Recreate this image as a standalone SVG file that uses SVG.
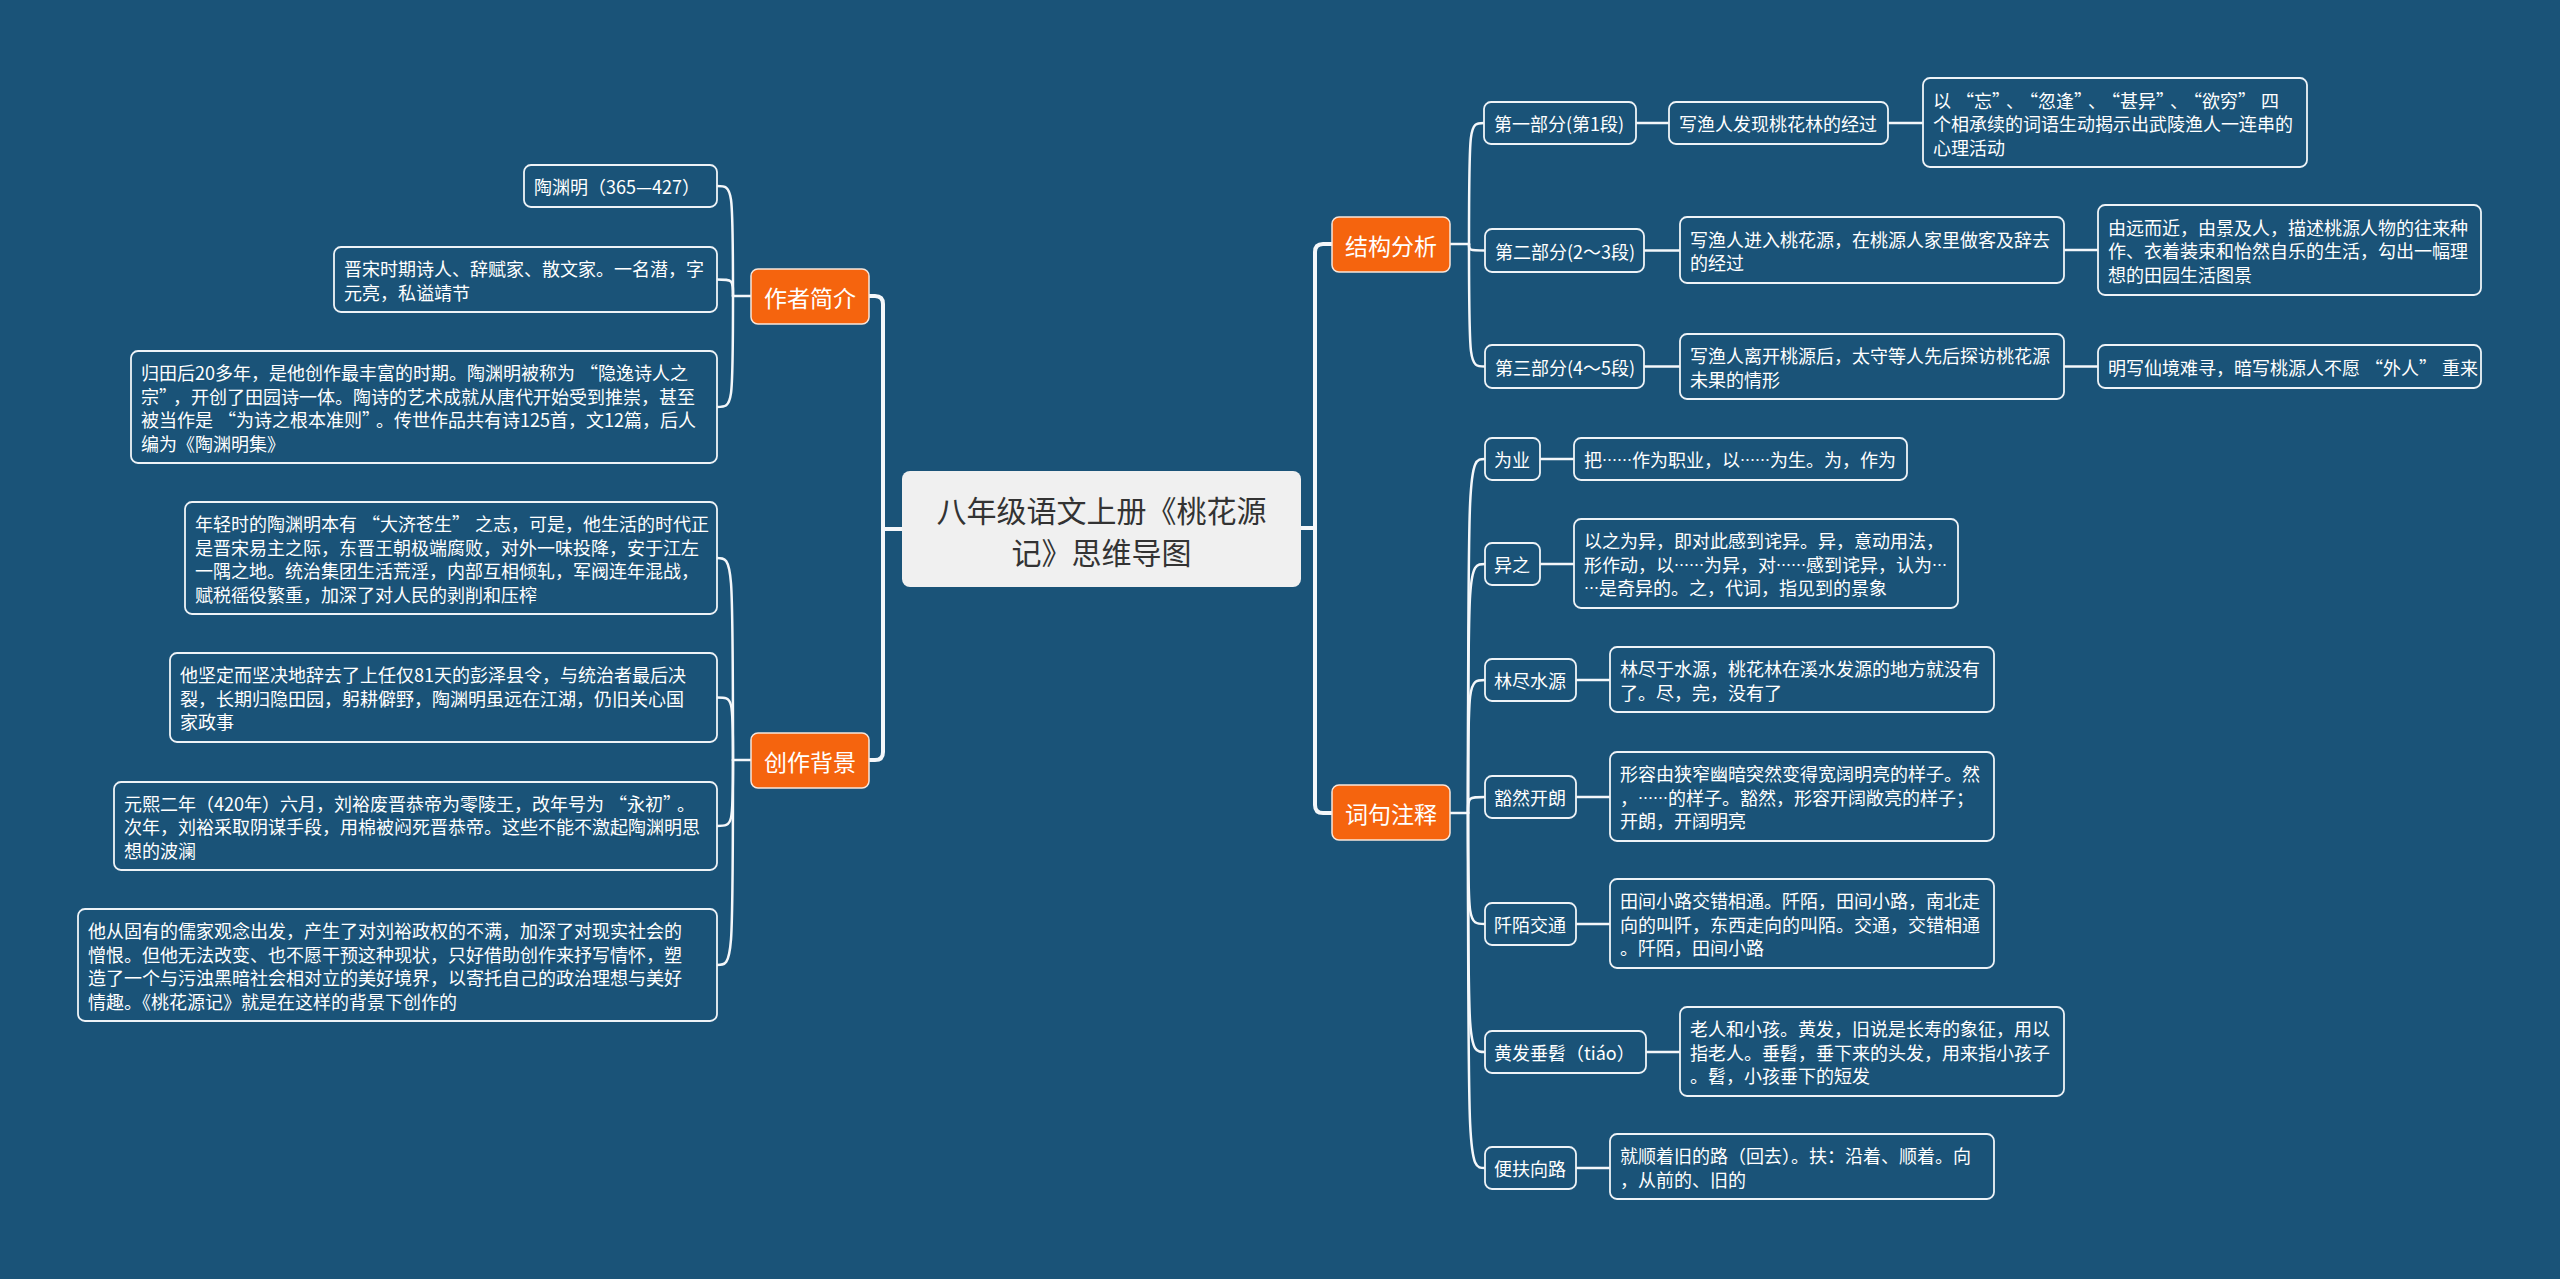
<svg xmlns="http://www.w3.org/2000/svg" width="2560" height="1279" viewBox="0 0 2560 1279">
<style>
.bg{fill:#1a5378}
.main{fill:none;stroke:#f4f7fa;stroke-width:4;stroke-linecap:round;stroke-linejoin:round}
.ln{fill:none;stroke:#f4f7fa;stroke-width:2.5;stroke-linecap:round}
.box{fill:#1a5378;stroke:#eef3f7;stroke-width:1.8}
.org{fill:#f5640e;stroke:#f8e6da;stroke-width:1.5}
.ctr{fill:#f0f0f0}
text{font-family:"Noto Sans CJK SC","Microsoft YaHei","Noto Sans",sans-serif;dominant-baseline:central}
.t{fill:#ffffff;font-size:18px}
.to{fill:#ffffff;font-size:23px;text-anchor:middle}
.tc{fill:#333333;font-size:30px;text-anchor:middle}
.qc{letter-spacing:5px}
.el{font-size:15px}
</style>
<rect class="bg" x="0" y="0" width="2560" height="1279"/>

<g id="connectors">
  <path class="main" d="M869,296 H875 Q883,296 883,304 V752 Q883,760 875,760 H869"/>
  <path class="main" d="M883,529 H902"/>
  <path class="main" d="M1332,244 H1323 Q1315,244 1315,252 V805 Q1315,813 1323,813 H1332"/>
  <path class="main" d="M1301,528 H1315"/>
  <path class="ln" d="M751,296 H733"/>
  <path class="ln" d="M733,296 C733,186 733,186 717,186"/>
  <path class="ln" d="M733,296 C733,279.5 733,279.5 717,279.5"/>
  <path class="ln" d="M733,296 C733,407 733,407 717,407"/>
  <path class="ln" d="M751,760 H733"/>
  <path class="ln" d="M733,760 C733,558 733,558 717,558"/>
  <path class="ln" d="M733,760 C733,697.5 733,697.5 717,697.5"/>
  <path class="ln" d="M733,760 C733,826 733,826 717,826"/>
  <path class="ln" d="M733,760 C733,965 733,965 717,965"/>
  <path class="ln" d="M1450,244 H1469"/>
  <path class="ln" d="M1469,244 C1469,123 1469,123 1484,123"/>
  <path class="ln" d="M1469,244 C1469,250.5 1469,250.5 1485,250.5"/>
  <path class="ln" d="M1469,244 C1469,366.5 1469,366.5 1485,366.5"/>
  <path class="ln" d="M1636,123 H1669"/>
  <path class="ln" d="M1888,123 H1923"/>
  <path class="ln" d="M1644,250.5 H1680"/>
  <path class="ln" d="M2064,250 H2098"/>
  <path class="ln" d="M1644,366.5 H1680"/>
  <path class="ln" d="M2064,366.5 H2098"/>
  <path class="ln" d="M1450,813 H1468"/>
  <path class="ln" d="M1468,813 C1468,459 1468,459 1485,459"/>
  <path class="ln" d="M1468,813 C1468,564 1468,564 1485,564"/>
  <path class="ln" d="M1468,813 C1468,680 1468,680 1485,680"/>
  <path class="ln" d="M1468,813 C1468,797 1468,797 1485,797"/>
  <path class="ln" d="M1468,813 C1468,924 1468,924 1485,924"/>
  <path class="ln" d="M1468,813 C1468,1052 1468,1052 1485,1052"/>
  <path class="ln" d="M1468,813 C1468,1168 1468,1168 1485,1168"/>
  <path class="ln" d="M1540,459 H1574"/>
  <path class="ln" d="M1540,564 H1574"/>
  <path class="ln" d="M1576,680 H1610"/>
  <path class="ln" d="M1576,797 H1610"/>
  <path class="ln" d="M1576,924 H1610"/>
  <path class="ln" d="M1646,1052 H1680"/>
  <path class="ln" d="M1576,1168 H1610"/>
</g>

<g id="center">
  <rect class="ctr" x="902" y="471" width="399" height="116" rx="8"/>
  <text class="tc" x="1101.5" y="509">八年级语文上册《桃花源</text>
  <text class="tc" x="1101.5" y="551">记》思维导图</text>
</g>

<g id="n-zuozhe">
  <rect class="org" x="751" y="269" width="118" height="55" rx="7"/>
  <text class="to" x="810" y="296.5">作者简介</text>
</g>
<g id="n-chuangzuo">
  <rect class="org" x="751" y="733" width="118" height="55" rx="7"/>
  <text class="to" x="810" y="760.5">创作背景</text>
</g>
<g id="n-jiegou">
  <rect class="org" x="1332" y="217" width="118" height="55" rx="7"/>
  <text class="to" x="1391" y="244.5">结构分析</text>
</g>
<g id="n-ciju">
  <rect class="org" x="1332" y="785" width="118" height="55" rx="7"/>
  <text class="to" x="1391" y="812.5">词句注释</text>
</g>

<g id="a1">
  <rect class="box" x="524" y="165" width="193" height="42" rx="7"/>
  <text class="t" x="534" y="186">陶渊明（365—427）</text>
</g>
<g id="a2">
  <rect class="box" x="334" y="247" width="383" height="65" rx="7"/>
  <text class="t" x="344" y="268">晋宋时期诗人、辞赋家、散文家。一名潜，字</text>
  <text class="t" x="344" y="291.5">元亮，私谥靖节</text>
</g>
<g id="a3">
  <rect class="box" x="131" y="351" width="586" height="112" rx="7"/>
  <text class="t" x="141" y="372">归田后20多年，是他创作最丰富的时期。陶渊明被称为<tspan dx="5">“</tspan>隐逸诗人之</text>
  <text class="t" x="141" y="395.5">宗<tspan class="qc">”</tspan>，开创了田园诗一体。陶诗的艺术成就从唐代开始受到推崇，甚至</text>
  <text class="t" x="141" y="419">被当作是<tspan dx="5">“</tspan>为诗之根本准则<tspan class="qc">”</tspan>。传世作品共有诗125首，文12篇，后人</text>
  <text class="t" x="141" y="442.5">编为《陶渊明集》</text>
</g>

<g id="b1">
  <rect class="box" x="185" y="502" width="532" height="112" rx="7"/>
  <text class="t" x="195" y="523">年轻时的陶渊明本有<tspan dx="5">“</tspan>大济苍生<tspan class="qc">”</tspan>之志，可是，他生活的时代正</text>
  <text class="t" x="195" y="546.5">是晋宋易主之际，东晋王朝极端腐败，对外一味投降，安于江左</text>
  <text class="t" x="195" y="570">一隅之地。统治集团生活荒淫，内部互相倾轧，军阀连年混战，</text>
  <text class="t" x="195" y="593.5">赋税徭役繁重，加深了对人民的剥削和压榨</text>
</g>
<g id="b2">
  <rect class="box" x="170" y="653" width="547" height="89" rx="7"/>
  <text class="t" x="180" y="674">他坚定而坚决地辞去了上任仅81天的彭泽县令，与统治者最后决</text>
  <text class="t" x="180" y="697.5">裂，长期归隐田园，躬耕僻野，陶渊明虽远在江湖，仍旧关心国</text>
  <text class="t" x="180" y="721">家政事</text>
</g>
<g id="b3">
  <rect class="box" x="114" y="782" width="603" height="88" rx="7"/>
  <text class="t" x="124" y="802.5">元熙二年（420年）六月，刘裕废晋恭帝为零陵王，改年号为<tspan dx="5">“</tspan>永初<tspan class="qc">”</tspan>。</text>
  <text class="t" x="124" y="826">次年，刘裕采取阴谋手段，用棉被闷死晋恭帝。这些不能不激起陶渊明思</text>
  <text class="t" x="124" y="849.5">想的波澜</text>
</g>
<g id="b4">
  <rect class="box" x="78" y="909" width="639" height="112" rx="7"/>
  <text class="t" x="88" y="930">他从固有的儒家观念出发，产生了对刘裕政权的不满，加深了对现实社会的</text>
  <text class="t" x="88" y="953.5">憎恨。但他无法改变、也不愿干预这种现状，只好借助创作来抒写情怀，塑</text>
  <text class="t" x="88" y="977">造了一个与污浊黑暗社会相对立的美好境界，以寄托自己的政治理想与美好</text>
  <text class="t" x="88" y="1000.5">情趣。《桃花源记》就是在这样的背景下创作的</text>
</g>

<g id="s1">
  <rect class="box" x="1484" y="102" width="152" height="42" rx="7"/>
  <text class="t" x="1494" y="123">第一部分(第1段)</text>
</g>
<g id="s1a">
  <rect class="box" x="1669" y="102" width="219" height="42" rx="7"/>
  <text class="t" x="1679" y="123">写渔人发现桃花林的经过</text>
</g>
<g id="s1b">
  <rect class="box" x="1923" y="78" width="384" height="89" rx="7"/>
  <text class="t" x="1933" y="99.5">以<tspan dx="5">“</tspan>忘<tspan class="qc">”</tspan>、<tspan dx="5">“</tspan>忽逢<tspan class="qc">”</tspan>、<tspan dx="5">“</tspan>甚异<tspan class="qc">”</tspan>、<tspan dx="5">“</tspan>欲穷<tspan class="qc">”</tspan>四</text>
  <text class="t" x="1933" y="123">个相承续的词语生动揭示出武陵渔人一连串的</text>
  <text class="t" x="1933" y="146.5">心理活动</text>
</g>
<g id="s2">
  <rect class="box" x="1485" y="229" width="159" height="43" rx="7"/>
  <text class="t" x="1495" y="250.5">第二部分(2～3段)</text>
</g>
<g id="s2a">
  <rect class="box" x="1680" y="217" width="384" height="66" rx="7"/>
  <text class="t" x="1690" y="238.5">写渔人进入桃花源，在桃源人家里做客及辞去</text>
  <text class="t" x="1690" y="262">的经过</text>
</g>
<g id="s2b">
  <rect class="box" x="2098" y="205" width="383" height="90" rx="7"/>
  <text class="t" x="2108" y="226.5">由远而近，由景及人，描述桃源人物的往来种</text>
  <text class="t" x="2108" y="250">作、衣着装束和怡然自乐的生活，勾出一幅理</text>
  <text class="t" x="2108" y="273.5">想的田园生活图景</text>
</g>
<g id="s3">
  <rect class="box" x="1485" y="345" width="159" height="43" rx="7"/>
  <text class="t" x="1495" y="366.5">第三部分(4～5段)</text>
</g>
<g id="s3a">
  <rect class="box" x="1680" y="334" width="384" height="65" rx="7"/>
  <text class="t" x="1690" y="355">写渔人离开桃源后，太守等人先后探访桃花源</text>
  <text class="t" x="1690" y="378.5">未果的情形</text>
</g>
<g id="s3b">
  <rect class="box" x="2098" y="345" width="383" height="43" rx="7"/>
  <text class="t" x="2108" y="366.5">明写仙境难寻，暗写桃源人不愿<tspan dx="5">“</tspan>外人<tspan class="qc">”</tspan>重来</text>
</g>

<g id="c1">
  <rect class="box" x="1485" y="438" width="55" height="42" rx="7"/>
  <text class="t" x="1494" y="459">为业</text>
</g>
<g id="c1a">
  <rect class="box" x="1574" y="438" width="333" height="42" rx="7"/>
  <text class="t" x="1584" y="459">把<tspan class="el">……</tspan>作为职业，以<tspan class="el">……</tspan>为生。为，作为</text>
</g>
<g id="c2">
  <rect class="box" x="1485" y="543" width="55" height="42" rx="7"/>
  <text class="t" x="1494" y="564">异之</text>
</g>
<g id="c2a">
  <rect class="box" x="1574" y="519" width="384" height="89" rx="7"/>
  <text class="t" x="1584" y="540">以之为异，即对此感到诧异。异，意动用法，</text>
  <text class="t" x="1584" y="563.5">形作动，以<tspan class="el">……</tspan>为异，对<tspan class="el">……</tspan>感到诧异，认为<tspan class="el">…</tspan></text>
  <text class="t" x="1584" y="587"><tspan class="el">…</tspan>是奇异的。之，代词，指见到的景象</text>
</g>
<g id="c3">
  <rect class="box" x="1485" y="659" width="91" height="42" rx="7"/>
  <text class="t" x="1494" y="680">林尽水源</text>
</g>
<g id="c3a">
  <rect class="box" x="1610" y="647" width="384" height="65" rx="7"/>
  <text class="t" x="1620" y="668">林尽于水源，桃花林在溪水发源的地方就没有</text>
  <text class="t" x="1620" y="691.5">了。尽，完，没有了</text>
</g>
<g id="c4">
  <rect class="box" x="1485" y="776" width="91" height="42" rx="7"/>
  <text class="t" x="1494" y="797">豁然开朗</text>
</g>
<g id="c4a">
  <rect class="box" x="1610" y="752" width="384" height="89" rx="7"/>
  <text class="t" x="1620" y="773">形容由狭窄幽暗突然变得宽阔明亮的样子。然</text>
  <text class="t" x="1620" y="796.5">，<tspan class="el">……</tspan>的样子。豁然，形容开阔敞亮的样子；</text>
  <text class="t" x="1620" y="820">开朗，开阔明亮</text>
</g>
<g id="c5">
  <rect class="box" x="1485" y="903" width="91" height="42" rx="7"/>
  <text class="t" x="1494" y="924">阡陌交通</text>
</g>
<g id="c5a">
  <rect class="box" x="1610" y="879" width="384" height="89" rx="7"/>
  <text class="t" x="1620" y="900">田间小路交错相通。阡陌，田间小路，南北走</text>
  <text class="t" x="1620" y="923.5">向的叫阡，东西走向的叫陌。交通，交错相通</text>
  <text class="t" x="1620" y="947">。阡陌，田间小路</text>
</g>
<g id="c6">
  <rect class="box" x="1485" y="1031" width="161" height="42" rx="7"/>
  <text class="t" x="1494" y="1052">黄发垂髫（tiáo）</text>
</g>
<g id="c6a">
  <rect class="box" x="1680" y="1007" width="384" height="89" rx="7"/>
  <text class="t" x="1690" y="1028">老人和小孩。黄发，旧说是长寿的象征，用以</text>
  <text class="t" x="1690" y="1051.5">指老人。垂髫，垂下来的头发，用来指小孩子</text>
  <text class="t" x="1690" y="1075">。髫，小孩垂下的短发</text>
</g>
<g id="c7">
  <rect class="box" x="1485" y="1147" width="91" height="42" rx="7"/>
  <text class="t" x="1494" y="1168">便扶向路</text>
</g>
<g id="c7a">
  <rect class="box" x="1610" y="1134" width="384" height="65" rx="7"/>
  <text class="t" x="1620" y="1155">就顺着旧的路（回去）。扶：沿着、顺着。向</text>
  <text class="t" x="1620" y="1178.5">，从前的、旧的</text>
</g>
</svg>
